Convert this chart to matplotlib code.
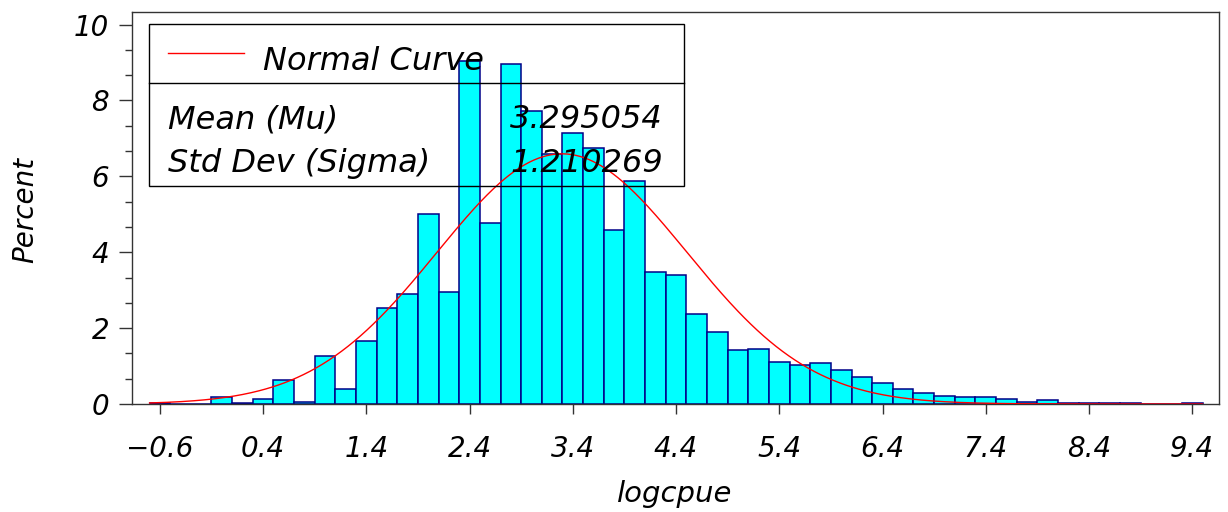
import numpy as np
import matplotlib.pyplot as plt
from matplotlib.patches import Rectangle
from matplotlib.ticker import MultipleLocator

plt.rcParams['font.family'] = ['DejaVu Sans']
plt.rcParams['font.style'] = 'italic'

# histogram of logcpue: bin midpoints (width 0.2) and percent of obs per bin
midpoints = [-0.6, -0.4, -0.2, 0.0, 0.2, 0.4, 0.6, 0.8, 1.0, 1.2,
             1.4, 1.6, 1.8, 2.0, 2.2, 2.4, 2.6, 2.8, 3.0, 3.2,
             3.4, 3.6, 3.8, 4.0, 4.2, 4.4, 4.6, 4.8, 5.0, 5.2,
             5.4, 5.6, 5.8, 6.0, 6.2, 6.4, 6.6, 6.8, 7.0, 7.2,
             7.4, 7.6, 7.8, 8.0, 8.2, 8.4, 8.6, 8.8, 9.0, 9.2, 9.4]
percent = [0.04, 0.0, 0.0, 0.18, 0.02, 0.12, 0.62, 0.05, 1.27, 0.39,
           1.67, 2.53, 2.89, 5.01, 2.94, 9.05, 4.76, 8.95, 7.71, 6.60,
           7.14, 6.74, 4.59, 5.88, 3.47, 3.41, 2.36, 1.89, 1.42, 1.46,
           1.11, 1.02, 1.09, 0.90, 0.72, 0.56, 0.40, 0.28, 0.20, 0.18,
           0.18, 0.12, 0.05, 0.10, 0.02, 0.02, 0.02, 0.02, 0.0, 0.0, 0.02]
bin_width = 0.2

# fitted normal curve parameters
mu = 3.295054
sigma = 1.210269

xtick_values = [-0.6, 0.4, 1.4, 2.4, 3.4, 4.4, 5.4, 6.4, 7.4, 8.4, 9.4]
xtick_labels = ['\u22120.6', '0.4', '1.4', '2.4', '3.4', '4.4', '5.4', '6.4', '7.4', '8.4', '9.4']
ytick_values = [0, 2, 4, 6, 8, 10]

fig = plt.figure(figsize=(12.28, 5.12), dpi=100)
ax = fig.add_axes([0.1075, 0.2109, 0.8852, 0.7657])

ax.bar(midpoints, percent, width=bin_width, color='#00FFFF',
       edgecolor='#000088', linewidth=1.1, zorder=2)

# normal curve scaled to percent per bin
xs = np.linspace(-0.7, 9.5, 500)
ys = 100 * bin_width * np.exp(-0.5 * ((xs - mu) / sigma) ** 2) / (sigma * np.sqrt(2 * np.pi))
ax.plot(xs, ys, color='#FF0000', lw=1, zorder=3)

ax.set_xlim(-0.87, 9.66)
ax.set_ylim(0, 10.33)

ax.set_xticks(xtick_values, xtick_labels)
ax.set_yticks(ytick_values)
ax.yaxis.set_minor_locator(MultipleLocator(2 / 3))
ax.tick_params(axis='x', length=7, width=1, pad=15, labelsize=20, color='#333333')
ax.tick_params(axis='y', which='major', length=9.5, width=1, pad=7, labelsize=20, color='#333333')
ax.tick_params(axis='y', which='minor', length=5, width=1, color='#333333')
for s in ax.spines.values():
    s.set_color('#333333')
    s.set_linewidth(1)

# inset legend box (SAS style)
ax.add_patch(Rectangle((0.0156, 0.556), 0.4924, 0.413, transform=ax.transAxes,
                       fill=False, ec='black', lw=1, zorder=4))
ax.plot([0.0156, 0.508], [0.819, 0.819], transform=ax.transAxes, color='black', lw=1, zorder=4)
ax.plot([0.033, 0.103], [0.895, 0.895], transform=ax.transAxes, color='#FF0000', lw=1, zorder=4)
ax.text(0.1205, 0.852, 'Normal Curve', transform=ax.transAxes, fontsize=23,
        va='baseline', ha='left', zorder=5)
ax.text(0.033, 0.704, 'Mean (Mu)', transform=ax.transAxes, fontsize=23,
        va='baseline', ha='left', zorder=5)
ax.text(0.033, 0.592, 'Std Dev (Sigma)', transform=ax.transAxes, fontsize=23,
        va='baseline', ha='left', zorder=5)
ax.text(0.4885, 0.704, f'{mu:.6f}', transform=ax.transAxes, fontsize=23,
        va='baseline', ha='right', zorder=5)
ax.text(0.4885, 0.592, f'{sigma:.6f}', transform=ax.transAxes, fontsize=23,
        va='baseline', ha='right', zorder=5)

fig.text(25 / 1228, 1 - 210 / 512, 'Percent', rotation=90, ha='center', va='center', fontsize=20)
fig.text(675 / 1228, 1 - 494 / 512, 'logcpue', ha='center', va='center', fontsize=21)

fig.savefig('out.png', dpi=100)
